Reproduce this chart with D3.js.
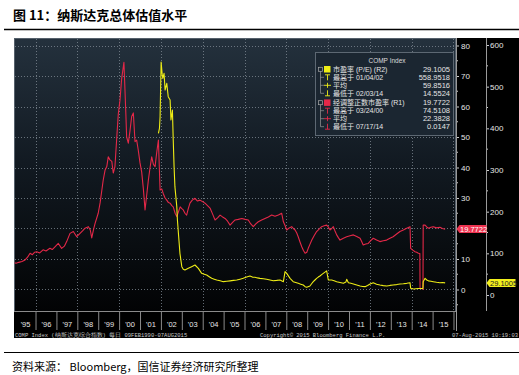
<!DOCTYPE html>
<html>
<head>
<meta charset="utf-8">
<script src="https://cdn.jsdelivr.net/npm/d3@7"></script>
<style>
  body { margin: 0; background: #fff; }
  svg { display: block; }
</style>
</head>
<body>
<svg id="svg" width="519" height="375"></svg>
<script>
// 经调整正数市盈率 (R1) - decimal year / value
var adjYears = [1995.00,1995.07,1995.20,1995.35,1995.50,1995.62,1995.74,1995.85,1995.95,1996.06,1996.20,1996.36,1996.50,1996.69,1996.80,1996.93,
  1997.09,1997.25,1997.38,1997.49,1997.65,1997.81,1997.97,1998.13,1998.25,1998.37,1998.53,1998.62,1998.69,1998.78,1998.85,1999.00,
  1999.09,1999.24,1999.33,1999.41,1999.48,1999.56,1999.65,1999.72,1999.80,1999.89,1999.96,2000.04,2000.12,2000.23,2000.28,2000.32,
  2000.36,2000.44,2000.52,2000.60,2000.68,2000.76,2000.84,2000.92,2001.00,2001.08,2001.16,2001.24,2001.32,2001.40,2001.48,2001.56,
  2001.64,2001.72,2001.80,2001.88,2001.96,2002.04,2002.11,2002.20,2002.28,2002.36,2002.44,2002.52,2002.59,2002.68,2002.76,2002.84,
  2002.92,2003.00,2003.07,2003.15,2003.23,2003.31,2003.39,2003.50,2003.63,2003.75,2003.87,2004.00,2004.11,2004.23,2004.35,2004.47,
  2004.59,2004.71,2004.83,2004.95,2005.07,2005.19,2005.31,2005.43,2005.55,2005.70,2005.87,2006.03,2006.18,2006.30,2006.42,2006.54,
  2006.66,2006.82,2006.98,2007.14,2007.30,2007.46,2007.62,2007.78,2007.86,2007.94,2008.02,2008.14,2008.26,2008.34,2008.42,2008.50,
  2008.57,2008.66,2008.74,2008.82,2008.90,2008.98,2009.05,2009.13,2009.22,2009.33,2009.45,2009.57,2009.69,2009.81,2009.93,2010.01,
  2010.09,2010.17,2010.25,2010.33,2010.41,2010.49,2010.57,2010.73,2010.89,2011.05,2011.21,2011.37,2011.53,2011.60,2011.68,2011.80,
  2011.92,2012.04,2012.16,2012.32,2012.48,2012.64,2012.80,2012.96,2013.11,2013.28,2013.44,2013.60,2013.76,2013.92,2013.95,2014.05,
  2014.16,2014.24,2014.32,2014.39,2014.40,2014.50,2014.54,2014.55,2014.64,2014.72,2014.80,2014.92,2015.03,2015.19,2015.35,2015.47,2015.60];
var adjValues = [8.8,8.6,8.9,9.2,9.7,10.6,11.9,11.4,12.2,12.4,12.0,13.0,12.6,13.5,13.1,14.0,
  15.1,13.5,14.2,15.7,18.4,19.0,17.3,18.4,19.2,20.1,20.6,19.5,16.9,19.8,21.7,25.0,
  28.4,35.9,39.2,40.3,43.5,42.5,42.0,38.2,40.3,50.1,57.5,62.0,69.0,74.51,65.4,58.0,
  50.0,48.0,52.0,56.7,57.9,48.5,49.0,45.5,41.5,38.5,33.0,26.1,31.0,35.9,40.0,43.5,
  41.0,40.3,45.0,49.0,32.6,33.0,31.5,30.0,29.3,28.5,28.3,27.5,27.1,25.0,23.9,25.5,
  27.1,26.5,26.1,25.0,24.4,26.5,28.3,29.3,29.9,29.0,29.3,28.8,28.3,27.5,26.7,24.8,
  22.8,23.5,24.4,23.8,23.3,22.4,21.1,22.0,22.8,23.0,23.3,23.0,22.8,21.5,20.6,21.5,
  22.2,22.8,23.3,23.8,24.4,24.0,24.4,25.0,22.2,21.0,19.5,20.2,20.6,20.0,19.5,18.5,
  17.3,15.5,14.0,12.8,11.9,12.2,13.5,14.8,16.2,17.6,19.0,19.8,20.6,20.9,21.1,20.5,
  19.5,20.0,20.6,19.2,17.9,17.0,16.2,16.8,17.3,17.6,17.9,17.4,16.8,15.8,14.6,14.9,
  15.1,16.0,16.8,16.2,15.7,16.0,16.2,16.8,17.3,18.2,19.0,19.5,20.1,20.6,13.5,12.9,
  12.4,12.2,11.9,11.8,0.4,0.3,0.0147,21.1,21.1,20.5,20.1,20.4,20.6,20.2,20.4,20.0,19.7722];

// 市盈率 P/E (R2)
var peYears = [2001.88,2001.93,2001.96,2002.01,2002.06,2002.09,2002.15,2002.20,2002.28,2002.35,2002.44,2002.48,2002.55,2002.59,2002.63,2002.67,
  2002.76,2002.79,2002.85,2002.91,2003.00,2003.07,2003.15,2003.31,2003.47,2003.63,2003.79,2003.95,2004.07,2004.19,2004.31,2004.43,
  2004.55,2004.67,2004.83,2004.99,2005.15,2005.31,2005.47,2005.63,2005.79,2005.94,2006.10,2006.26,2006.38,2006.50,2006.62,2006.74,
  2006.90,2007.06,2007.22,2007.38,2007.54,2007.70,2007.86,2007.90,2007.94,2008.02,2008.10,2008.18,2008.33,2008.45,2008.57,2008.69,
  2008.81,2008.90,2008.98,2009.13,2009.21,2009.29,2009.37,2009.45,2009.53,2009.61,2009.69,2009.77,2009.85,2009.93,2010.01,2010.17,
  2010.29,2010.41,2010.57,2010.73,2010.85,2010.89,2010.97,2011.09,2011.21,2011.37,2011.53,2011.65,2011.77,2011.89,2012.01,2012.16,
  2012.32,2012.48,2012.64,2012.80,2012.96,2013.11,2013.28,2013.44,2013.60,2013.76,2013.92,2013.95,2014.09,2014.30,2014.54,2014.55,
  2014.64,2014.72,2014.80,2014.92,2015.03,2015.19,2015.35,2015.47,2015.60];
var peValues = [388,400,428,558.95,530,520,532,492,508,476,468,420,444,372,308,260,
  212,180,140,100,68,62,60,64,68,72,64,52,50,48,44,40,
  38,36,34,32,33,34,35,36,38,40,43,45.6,43,42.5,41,40,
  39,37.7,36,34.3,35,36,32,44,56,52,46,40,32,30,28,26,
  24,20,18.5,21.6,27,32,36,40,43,45.6,49,52,55,58,36,36,
  34,32,30,28,31,37.7,29.5,28,26.4,24,21.6,20.5,20,23,26.4,29.5,
  26,24,22.5,21.6,23,24,25,26.4,27,28,29.5,16,14.55,15.5,16,32,
  40,36,34,33,32,30.5,29.5,30,29.1005];

var yearLabels = ["'95","'96","'97","'98","'99","'00","'01","'02","'03","'04","'05","'06","'07","'08","'09","'10","'11","'12","'13","'14","'15"];
var r1Ticks = [0, 10, 20, 30, 40, 50, 60, 70, 80];
var r2Ticks = [0, 100, 200, 300, 400, 500, 600];

var legendLabels = ["市盈率 (P/E)  (R2)", "最高于 01/04/02", "平均", "最低于 02/03/14",
                    "经调整正数市盈率  (R1)", "最高于 03/24/00", "平均", "最低于 07/17/14"];
var legendValues = ["29.1005", "558.9518", "59.8516", "14.5524", "19.7722", "74.5108", "22.3828", "0.0147"];

var redColor = "#e42848", yellowColor = "#eeec16";
var cjk = "'Noto Sans CJK SC', sans-serif";
var sans = "'Liberation Sans', Arial, sans-serif";
var sansCjk = "'Liberation Sans', 'Noto Sans CJK SC', sans-serif";
var mono = "'Liberation Mono', 'DejaVu Sans Mono', monospace";

var svg = d3.select("#svg");

var plotLeft = 14, plotRight = 456, plotTop = 38, plotBottom = 311;

var x = d3.scaleLinear().domain([1994.97, 2016.12]).range([plotLeft, plotRight]);
var y1 = d3.scaleLinear().domain([-7.05, 82.46]).range([plotBottom, plotTop]);
var y2 = d3.scaleLinear().domain([-38.4, 616.8]).range([plotBottom, plotTop]);

// title + rules
svg.append("text")
    .attr("x", 13).attr("y", 20)
    .attr("font-family", cjk).attr("font-weight", "bold").attr("font-size", 13)
    .text("图 11：纳斯达克总体估值水平");
svg.append("line").attr("x1", 4).attr("x2", 519).attr("y1", 29.5).attr("y2", 29.5)
    .attr("stroke", "#000").attr("stroke-width", 1.5);
svg.append("line").attr("x1", 4).attr("x2", 519).attr("y1", 352.5).attr("y2", 352.5)
    .attr("stroke", "#000").attr("stroke-width", 1.2);
svg.append("text")
    .attr("x", 12).attr("y", 371)
    .attr("font-family", cjk).attr("font-size", 11)
    .text("资料来源： Bloomberg，国信证券经济研究所整理");

// black panel
svg.append("rect").attr("x", 14).attr("y", 38).attr("width", 505).attr("height", 300).attr("fill", "#000");

var defs = svg.append("defs");
var grad = defs.append("linearGradient").attr("id", "bg").attr("x1", 0).attr("x2", 0).attr("y1", 0).attr("y2", 1);
grad.append("stop").attr("offset", "0%").attr("stop-color", "#24313d");
grad.append("stop").attr("offset", "45%").attr("stop-color", "#121a22");
grad.append("stop").attr("offset", "100%").attr("stop-color", "#020304");
defs.append("clipPath").attr("id", "clip").append("rect")
    .attr("x", plotLeft).attr("y", plotTop).attr("width", plotRight - plotLeft).attr("height", plotBottom - plotTop);

svg.append("rect")
    .attr("x", plotLeft + 0.5).attr("y", plotTop + 0.5)
    .attr("width", plotRight - plotLeft - 1).attr("height", plotBottom - plotTop)
    .attr("fill", "url(#bg)").attr("stroke", "#55606b");

// grid
var grid = svg.append("g").attr("stroke", "#7d8892").attr("stroke-dasharray", "1,2").attr("stroke-width", 0.8);
grid.selectAll(".h").data(r1Ticks).enter().append("line")
    .attr("x1", plotLeft + 1).attr("x2", plotRight)
    .attr("y1", function(d) { return Math.round(y1(d)) + 0.5; })
    .attr("y2", function(d) { return Math.round(y1(d)) + 0.5; });
grid.selectAll(".v").data(d3.range(1996, 2017, 2)).enter().append("line")
    .attr("y1", plotTop + 1).attr("y2", plotBottom)
    .attr("x1", function(d) { return Math.round(x(d)) + 0.5; })
    .attr("x2", function(d) { return Math.round(x(d)) + 0.5; });

// x axis row: separators + labels
var sep = svg.append("g").attr("transform", "translate(0," + plotBottom + ")")
    .call(d3.axisBottom(x).tickValues(d3.range(1996, 2017)).tickSize(19).tickFormat(""));
sep.select(".domain").remove();
sep.selectAll("line").attr("stroke", "#8a8a8a");
svg.append("line").attr("x1", plotLeft).attr("x2", plotRight).attr("y1", plotBottom + 0.5).attr("y2", plotBottom + 0.5)
    .attr("stroke", "#8a8a8a");

var lab = svg.append("g").attr("transform", "translate(0," + (plotBottom + 11) + ")")
    .call(d3.axisBottom(x).tickValues(d3.range(1995.5, 2016, 1)).tickSize(0)
      .tickFormat(function(d, i) { return yearLabels[i]; }));
lab.select(".domain").remove();
lab.selectAll("text").attr("fill", "#e6e6e6").attr("font-family", sans).attr("font-size", 7.5).attr("dy", "0.3em");

// right axes
var ax1 = svg.append("g").attr("transform", "translate(" + plotRight + ",0)")
    .call(d3.axisRight(y1).tickValues(r1Ticks).tickSize(3).tickPadding(2));
ax1.select(".domain").remove();
ax1.selectAll("line").attr("stroke", "#ccc");
ax1.selectAll("text").attr("fill", "#e6e6e6").attr("font-family", sans).attr("font-size", 8);
// the last-value tag covers the "20" label
ax1.selectAll(".tick").filter(function(d) { return d === 20; }).select("text").remove();
ax1.selectAll(".minor").data(d3.range(-5, 80, 10)).enter().append("line").attr("class", "minor")
    .attr("x1", 0).attr("x2", 2).attr("stroke", "#ccc")
    .attr("y1", function(d) { return y1(d); }).attr("y2", function(d) { return y1(d); });
svg.append("line").attr("x1", plotRight + 0.5).attr("x2", plotRight + 0.5).attr("y1", plotTop).attr("y2", 331)
    .attr("stroke", "#9a9a9a");

var ax2 = svg.append("g").attr("transform", "translate(486,0)")
    .call(d3.axisRight(y2).tickValues(r2Ticks).tickSize(3).tickPadding(1));
ax2.select(".domain").remove();
ax2.selectAll("line").attr("stroke", "#ccc");
ax2.selectAll("text").attr("fill", "#e6e6e6").attr("font-family", sans).attr("font-size", 8);
ax2.selectAll(".minor").data(d3.range(50, 600, 100)).enter().append("line").attr("class", "minor")
    .attr("x1", 0).attr("x2", 2).attr("stroke", "#ccc")
    .attr("y1", function(d) { return y2(d); }).attr("y2", function(d) { return y2(d); });
svg.append("line").attr("x1", 486.5).attr("x2", 486.5).attr("y1", plotTop).attr("y2", plotBottom)
    .attr("stroke", "#9a9a9a");

// series
var lines = svg.append("g").attr("clip-path", "url(#clip)").attr("fill", "none").attr("stroke-width", 1.1)
    .attr("stroke-linejoin", "round");
lines.append("path")
    .datum(d3.zip(adjYears, adjValues))
    .attr("stroke", redColor)
    .attr("d", d3.line().x(function(d) { return x(d[0]); }).y(function(d) { return y1(d[1]); }));
lines.append("path")
    .datum(d3.zip(peYears, peValues))
    .attr("stroke", yellowColor)
    .attr("d", d3.line().x(function(d) { return x(d[0]); }).y(function(d) { return y2(d[1]); }));

// last value tags
function tag(x0, yc, w, fill, txtColor, label) {
  var g = svg.append("g");
  g.append("path")
      .attr("d", "M" + x0 + "," + yc + "L" + (x0 + 3) + "," + (yc - 4) + "H" + (x0 + w) + "V" + (yc + 4) + "H" + (x0 + 3) + "Z")
      .attr("fill", fill);
  g.append("text").attr("x", x0 + 3.5).attr("y", yc + 2.8)
      .attr("font-family", sans).attr("font-size", 7.5).attr("fill", txtColor).text(label);
}
tag(plotRight + 0.5, Math.round(y1(adjValues[adjValues.length - 1])), 30, "#ee3350", "#fff", legendValues[4]);
tag(486.5, Math.round(y2(peValues[peValues.length - 1])), 29, "#f2ef1c", "#222", legendValues[0]);

// legend
var lg = svg.append("g");
lg.append("rect").attr("x", 315.5).attr("y", 52.5).attr("width", 138).attr("height", 83)
    .attr("fill", "#1b2631").attr("stroke", "#5d6873");
lg.append("text").attr("x", 387).attr("y", 62.5).attr("text-anchor", "middle")
    .attr("font-family", sans).attr("font-size", 6.5).attr("fill", "#dcdcdc").text("COMP Index");

var rowY = legendLabels.map(function(d, i) { return 72 + i * 8 + (i >= 4 ? 1.4 : 0); });
lg.selectAll(".lab").data(legendLabels).enter().append("text")
    .attr("x", 333).attr("y", function(d, i) { return rowY[i]; })
    .attr("font-family", sansCjk).attr("font-size", 7).attr("fill", "#e4e4e4")
    .text(function(d) { return d; });
lg.selectAll(".val").data(legendValues).enter().append("text")
    .attr("x", 450).attr("y", function(d, i) { return rowY[i]; }).attr("text-anchor", "end")
    .attr("font-family", sans).attr("font-size", 7.5).attr("fill", "#e4e4e4")
    .text(function(d) { return d; });

[0, 4].forEach(function(k) {
  var col = k === 0 ? yellowColor : redColor;
  var cy = rowY[k] - 2.7;
  lg.append("line").attr("x1", 320.5).attr("x2", 320.5).attr("y1", cy).attr("y2", rowY[k + 3] - 2.7)
      .attr("stroke", "#999").attr("stroke-width", 0.7);
  lg.append("rect").attr("x", 318.5).attr("y", cy - 2).attr("width", 4).attr("height", 4)
      .attr("fill", "#1b2631").attr("stroke", "#aaa").attr("stroke-width", 0.7);
  lg.append("rect").attr("x", 324).attr("y", cy - 3.3).attr("width", 6.5).attr("height", 6.5).attr("fill", col);
  for (var j = 1; j <= 3; j++) {
    var yy = rowY[k + j] - 2.7;
    lg.append("line").attr("x1", 320.5).attr("x2", 324).attr("y1", yy).attr("y2", yy)
        .attr("stroke", "#999").attr("stroke-width", 0.7);
    var ic = lg.append("g").attr("stroke", col).attr("stroke-width", 0.9);
    if (j === 1) {
      ic.append("line").attr("x1", 325).attr("x2", 330).attr("y1", yy - 2.5).attr("y2", yy - 2.5);
      ic.append("line").attr("x1", 327.5).attr("x2", 327.5).attr("y1", yy - 2.5).attr("y2", yy + 3);
    } else if (j === 2) {
      ic.append("line").attr("x1", 324).attr("x2", 331).attr("y1", yy).attr("y2", yy);
      ic.append("line").attr("x1", 327.5).attr("x2", 327.5).attr("y1", yy - 2.5).attr("y2", yy + 2.5);
    } else {
      ic.append("line").attr("x1", 325).attr("x2", 330).attr("y1", yy + 2.5).attr("y2", yy + 2.5);
      ic.append("line").attr("x1", 327.5).attr("x2", 327.5).attr("y1", yy - 3).attr("y2", yy + 2.5);
    }
  }
});

// footer inside panel
var foot = svg.append("g").attr("font-family", mono).attr("font-size", 5.5).attr("fill", "#c8c8c8");
foot.append("text").attr("x", 15).attr("y", 337).text("COMP Index (纳斯达克综合指数)  每日 09FEB1990-07AUG2015");
foot.append("text").attr("x", 260).attr("y", 337).text("Copyright© 2015 Bloomberg Finance L.P.");
foot.append("text").attr("x", 518).attr("y", 337).attr("text-anchor", "end").text("07-Aug-2015 10:19:03");
</script>
</body>
</html>
